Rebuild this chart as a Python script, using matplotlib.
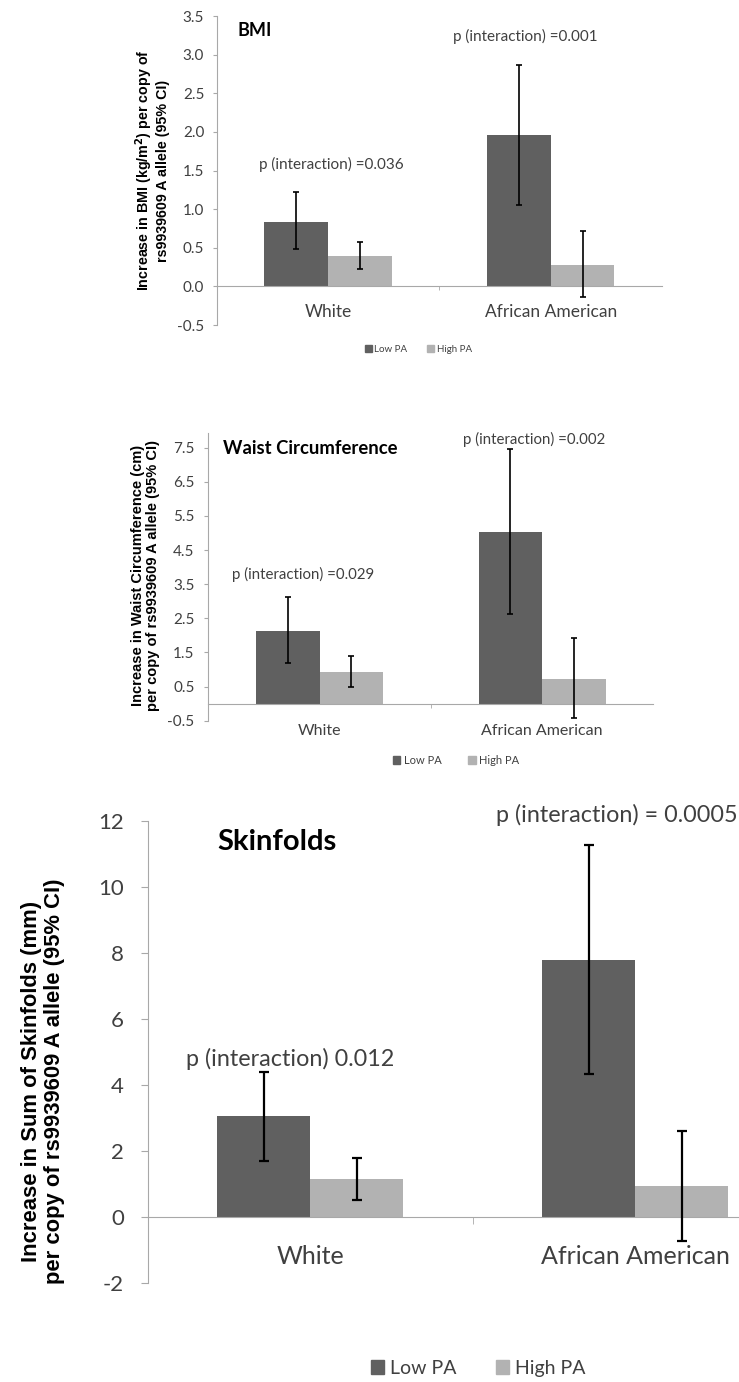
import numpy as np
import matplotlib
matplotlib.use('Agg')
from matplotlib import pyplot as plt
from matplotlib.patches import Patch

plt.rcParams['font.family'] = ['Lato', 'DejaVu Sans']
plt.rcParams['axes.unicode_minus'] = False

groups = ['White', 'African American']

bmi_low = [0.84, 1.96]
bmi_low_ci = [[0.48, 1.05], [1.22, 2.86]]
bmi_high = [0.40, 0.28]
bmi_high_ci = [[0.23, -0.14], [0.58, 0.72]]
bmi_p = ['p (interaction) =0.036', 'p (interaction) =0.001']

waist_low = [2.14, 5.03]
waist_low_ci = [[1.20, 2.63], [3.13, 7.46]]
waist_high = [0.94, 0.73]
waist_high_ci = [[0.50, -0.42], [1.41, 1.91]]
waist_p = ['p (interaction) =0.029', 'p (interaction) =0.002']

skin_low = [3.05, 7.77]
skin_low_ci = [[1.70, 4.32], [4.39, 11.27]]
skin_high = [1.13, 0.93]
skin_high_ci = [[0.50, -0.73], [1.77, 2.60]]
skin_p = ['p (interaction) 0.012', 'p (interaction) = 0.0005']

dark = '#606060'
light = '#b2b2b2'
grey = '#a8a8a8'
txt = '#404040'


def panel(ax, low, low_ci, high, high_ci, ylim, yticks, fmt, tfs, cfs, pad, ypad, tlen, lw, cap):
    x = np.arange(len(groups))
    w = 0.286
    ax.bar(x - w / 2, low, w, color=dark, zorder=2)
    ax.bar(x + w / 2, high, w, color=light, zorder=2)
    lo = np.array(low)
    ax.errorbar(x - w / 2, low, yerr=[lo - low_ci[0], np.array(low_ci[1]) - lo],
                fmt='none', ecolor='black', elinewidth=lw, capsize=cap, capthick=lw, zorder=3)
    hi = np.array(high)
    ax.errorbar(x + w / 2, high, yerr=[hi - high_ci[0], np.array(high_ci[1]) - hi],
                fmt='none', ecolor='black', elinewidth=lw, capsize=cap, capthick=lw, zorder=3)
    ax.set_xlim(-0.5, 1.5)
    ax.set_ylim(*ylim)
    ax.set_yticks(yticks)
    ax.set_yticklabels([fmt % v for v in yticks])
    for s in ['top', 'right']:
        ax.spines[s].set_visible(False)
    ax.spines['left'].set_color(grey)
    ax.spines['bottom'].set_position(('data', 0))
    ax.spines['bottom'].set_color(grey)
    ax.set_xticks(x)
    ax.set_xticklabels(groups)
    ax.set_xticks([0.5], minor=True)
    ax.tick_params(axis='x', which='major', length=0, pad=pad, labelsize=cfs, labelcolor=txt)
    ax.tick_params(axis='x', which='minor', length=tlen, color=grey, direction='out')
    ax.tick_params(axis='y', length=tlen, color=grey, labelsize=tfs, labelcolor=txt, pad=ypad)


fig = plt.figure(figsize=(7.39, 13.82), dpi=100)

# BMI
ax1 = fig.add_axes([0.2932, 0.7648, 0.6027, 0.2236])
panel(ax1, bmi_low, bmi_low_ci, bmi_high, bmi_high_ci, (-0.5, 3.5),
      np.arange(-0.5, 3.51, 0.5), '%.1f', 11, 12.5, 13, 6, 3, 1.2, 2.5)
ax1.text(-0.405, 3.31, 'BMI', fontsize=13, fontweight='bold', va='center', ha='left')
ax1.text(0.015, 1.58, bmi_p[0], fontsize=11, color=txt, ha='center', va='center')
ax1.text(0.888, 3.24, bmi_p[1], fontsize=11, color=txt, ha='center', va='center')
ax1.text(-0.145, 0.5, 'Increase in BMI (kg/m$^\\mathbf{2}$) per copy of\nrs9939609 A allele (95% CI)',
         transform=ax1.transAxes, rotation=90, ha='center', va='center', fontsize=10.3,
         fontweight='bold', family='Liberation Sans', linespacing=1.1)

# Waist circumference
ax2 = fig.add_axes([0.2819, 0.4785, 0.6024, 0.2082])
panel(ax2, waist_low, waist_low_ci, waist_high, waist_high_ci, (-0.5, 7.93),
      np.arange(-0.5, 7.51, 1.0), '%.1f', 11, 11.5, 15, 7, 3, 1.2, 2.5)
ax2.text(-0.433, 7.48, 'Waist Circumference', fontsize=13.3, fontweight='bold', va='center', ha='left')
ax2.text(-0.076, 3.79, waist_p[0], fontsize=10.8, color=txt, ha='center', va='center')
ax2.text(0.965, 7.73, waist_p[1], fontsize=10.8, color=txt, ha='center', va='center')
ax2.text(-0.142, 0.506, 'Increase in Waist Circumference (cm)\nper copy of rs9939609 A allele (95% CI)',
         transform=ax2.transAxes, rotation=90, ha='center', va='center', fontsize=10.5,
         fontweight='bold', family='Liberation Sans', linespacing=1.1)

# Skinfolds
ax3 = fig.add_axes([0.1999, 0.0718, 0.8796, 0.3344])
panel(ax3, skin_low, skin_low_ci, skin_high, skin_high_ci, (-2, 12),
      np.arange(-2, 12.1, 2), '%d', 16, 18, 20, 12, 5, 1.6, 3.6)
ax3.text(-0.285, 11.36, 'Skinfolds', fontsize=21, fontweight='bold', va='center', ha='left')
ax3.text(-0.062, 4.78, skin_p[0], fontsize=16.8, color=txt, ha='center', va='center')
ax3.text(0.573, 12.18, skin_p[1], fontsize=16.8, color=txt, ha='left', va='center', clip_on=False)
ax3.text(-0.161, 0.435, 'Increase in Sum of Skinfolds (mm)\nper copy of rs9939609 A allele (95% CI)',
         transform=ax3.transAxes, rotation=90, ha='center', va='center', fontsize=15.8,
         fontweight='bold', family='Liberation Sans', linespacing=1.1)

handles = [Patch(color=dark, label='Low PA'), Patch(color=light, label='High PA')]
for (cx, cy), fs, cs in [((0.566, 0.747), 7, 2.0), ((0.617, 0.45), 8, 2.4), ((0.647, 0.0101), 14, 2.0)]:
    leg = fig.legend(handles=handles, loc='center', bbox_to_anchor=(cx, cy), ncol=2,
                     frameon=False, fontsize=fs, handlelength=0.7, handleheight=0.7,
                     handletextpad=0.3, columnspacing=cs)
    for t in leg.get_texts():
        t.set_color(txt)

fig.savefig('out.png', dpi=100)
